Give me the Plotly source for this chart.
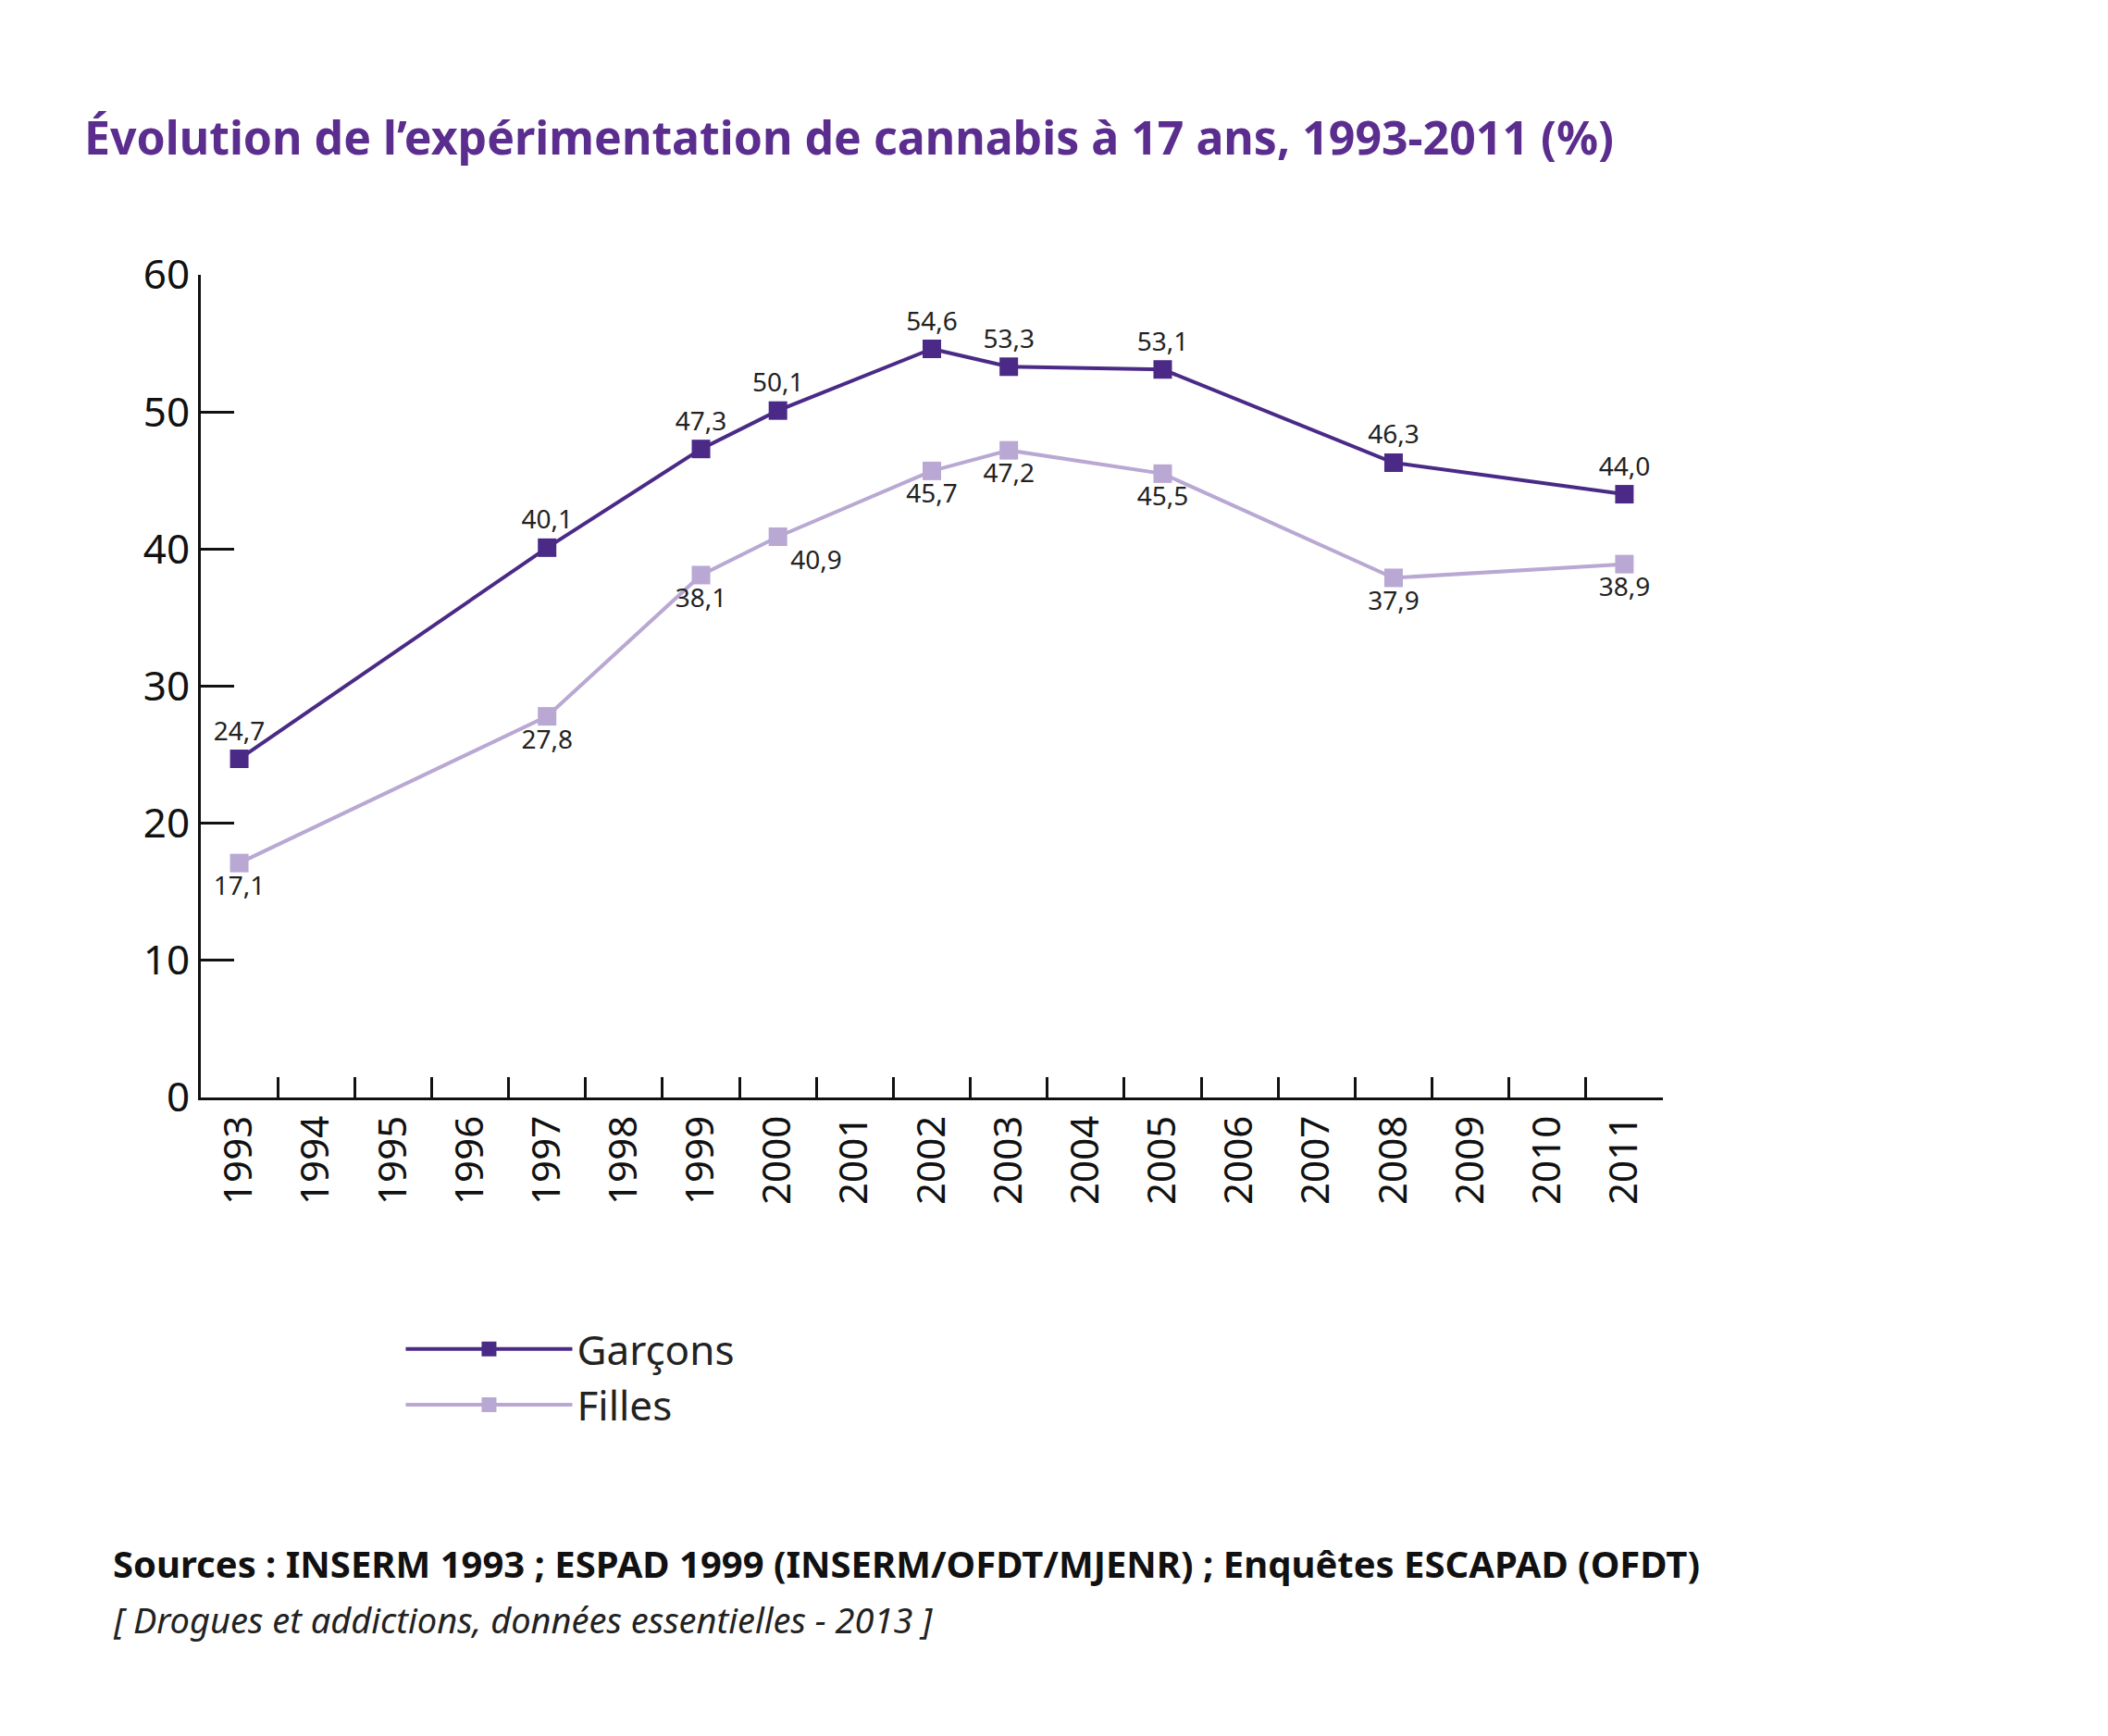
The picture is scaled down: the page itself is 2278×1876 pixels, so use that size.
import plotly.graph_objects as go

# Data
all_years = [str(y) for y in range(1993, 2012)]
years = ["1993", "1997", "1999", "2000", "2002", "2003", "2005", "2008", "2011"]
garcons = [24.7, 40.1, 47.3, 50.1, 54.6, 53.3, 53.1, 46.3, 44.0]
filles = [17.1, 27.8, 38.1, 40.9, 45.7, 47.2, 45.5, 37.9, 38.9]

DARK = "#4a2a86"
LIGHT = "#b8a8d3"
FONT = "Noto Sans"


def fr(v):
    return f"{v:.1f}".replace(".", ",")


fig = go.Figure()

fig.add_trace(go.Scatter(
    x=years, y=garcons, name="Garçons",
    mode="lines+markers+text",
    line=dict(color=DARK, width=4),
    marker=dict(color=DARK, size=20, symbol="square"),
    text=[fr(v) for v in garcons], textposition="top center",
    textfont=dict(size=28, color="#222222", family=FONT),
))

fig.add_trace(go.Scatter(
    x=years, y=filles, name="Filles",
    mode="lines+markers+text",
    line=dict(color=LIGHT, width=4),
    marker=dict(color=LIGHT, size=20, symbol="square"),
    text=[fr(v) for v in filles],
    textposition=["bottom center"] * 3 + ["bottom right"] + ["bottom center"] * 5,
    textfont=dict(size=28, color="#222222", family=FONT),
))

fig.update_layout(
    autosize=False, width=2278, height=1876,
    paper_bgcolor="white", plot_bgcolor="white",
    margin=dict(l=209, r=489, t=289, b=698),
    font=dict(family=FONT, color="#111111"),
    title=dict(
        text="<b>Évolution de l’expérimentation de cannabis à 17 ans, 1993-2011 (%)</b>",
        x=83 / 2278, xanchor="left", y=1 - 141 / 1876, yanchor="middle",
        font=dict(size=50, color="#5b2d8e", family=FONT),
    ),
    showlegend=True,
    legend=dict(
        orientation="h", x=0.137, y=-0.34, xanchor="left", yanchor="middle",
        entrywidth=670, entrywidthmode="pixels", itemwidth=180,
        font=dict(size=44, color="#222222", family=FONT),
    ),
    xaxis=dict(
        type="category", categoryorder="array", categoryarray=all_years,
        range=[-0.5, 18.5], tickson="boundaries",
        ticks="inside", ticklen=22, tickwidth=3, tickcolor="#111111",
        showline=True, linecolor="#111111", linewidth=3,
        showgrid=False, tickangle=-90,
        tickfont=dict(size=42, color="#111111", family=FONT),
    ),
    yaxis=dict(
        range=[0, 60], dtick=10, ticks="inside", ticklen=36, tickwidth=3,
        tickcolor="#111111", showline=True, linecolor="#111111", linewidth=3,
        showgrid=False, zeroline=False,
        tickfont=dict(size=44, color="#111111", family=FONT),
    ),
    annotations=[
        dict(text="<b>Sources : INSERM 1993 ; ESPAD 1999 (INSERM/OFDT/MJENR) ; Enquêtes ESCAPAD (OFDT)</b>",
             xref="paper", yref="paper", x=-(209 - 112) / 1580, y=-(1681 - 1178) / 889,
             xanchor="left", yanchor="middle", showarrow=False,
             font=dict(size=40, color="#111111", family=FONT)),
        dict(text="<i>[ Drogues et addictions, données essentielles - 2013 ]</i>",
             xref="paper", yref="paper", x=-(209 - 112) / 1580, y=-(1742 - 1178) / 889,
             xanchor="left", yanchor="middle", showarrow=False,
             font=dict(size=38, color="#222222", family=FONT)),
    ],
)

fig.write_html("out.html")
